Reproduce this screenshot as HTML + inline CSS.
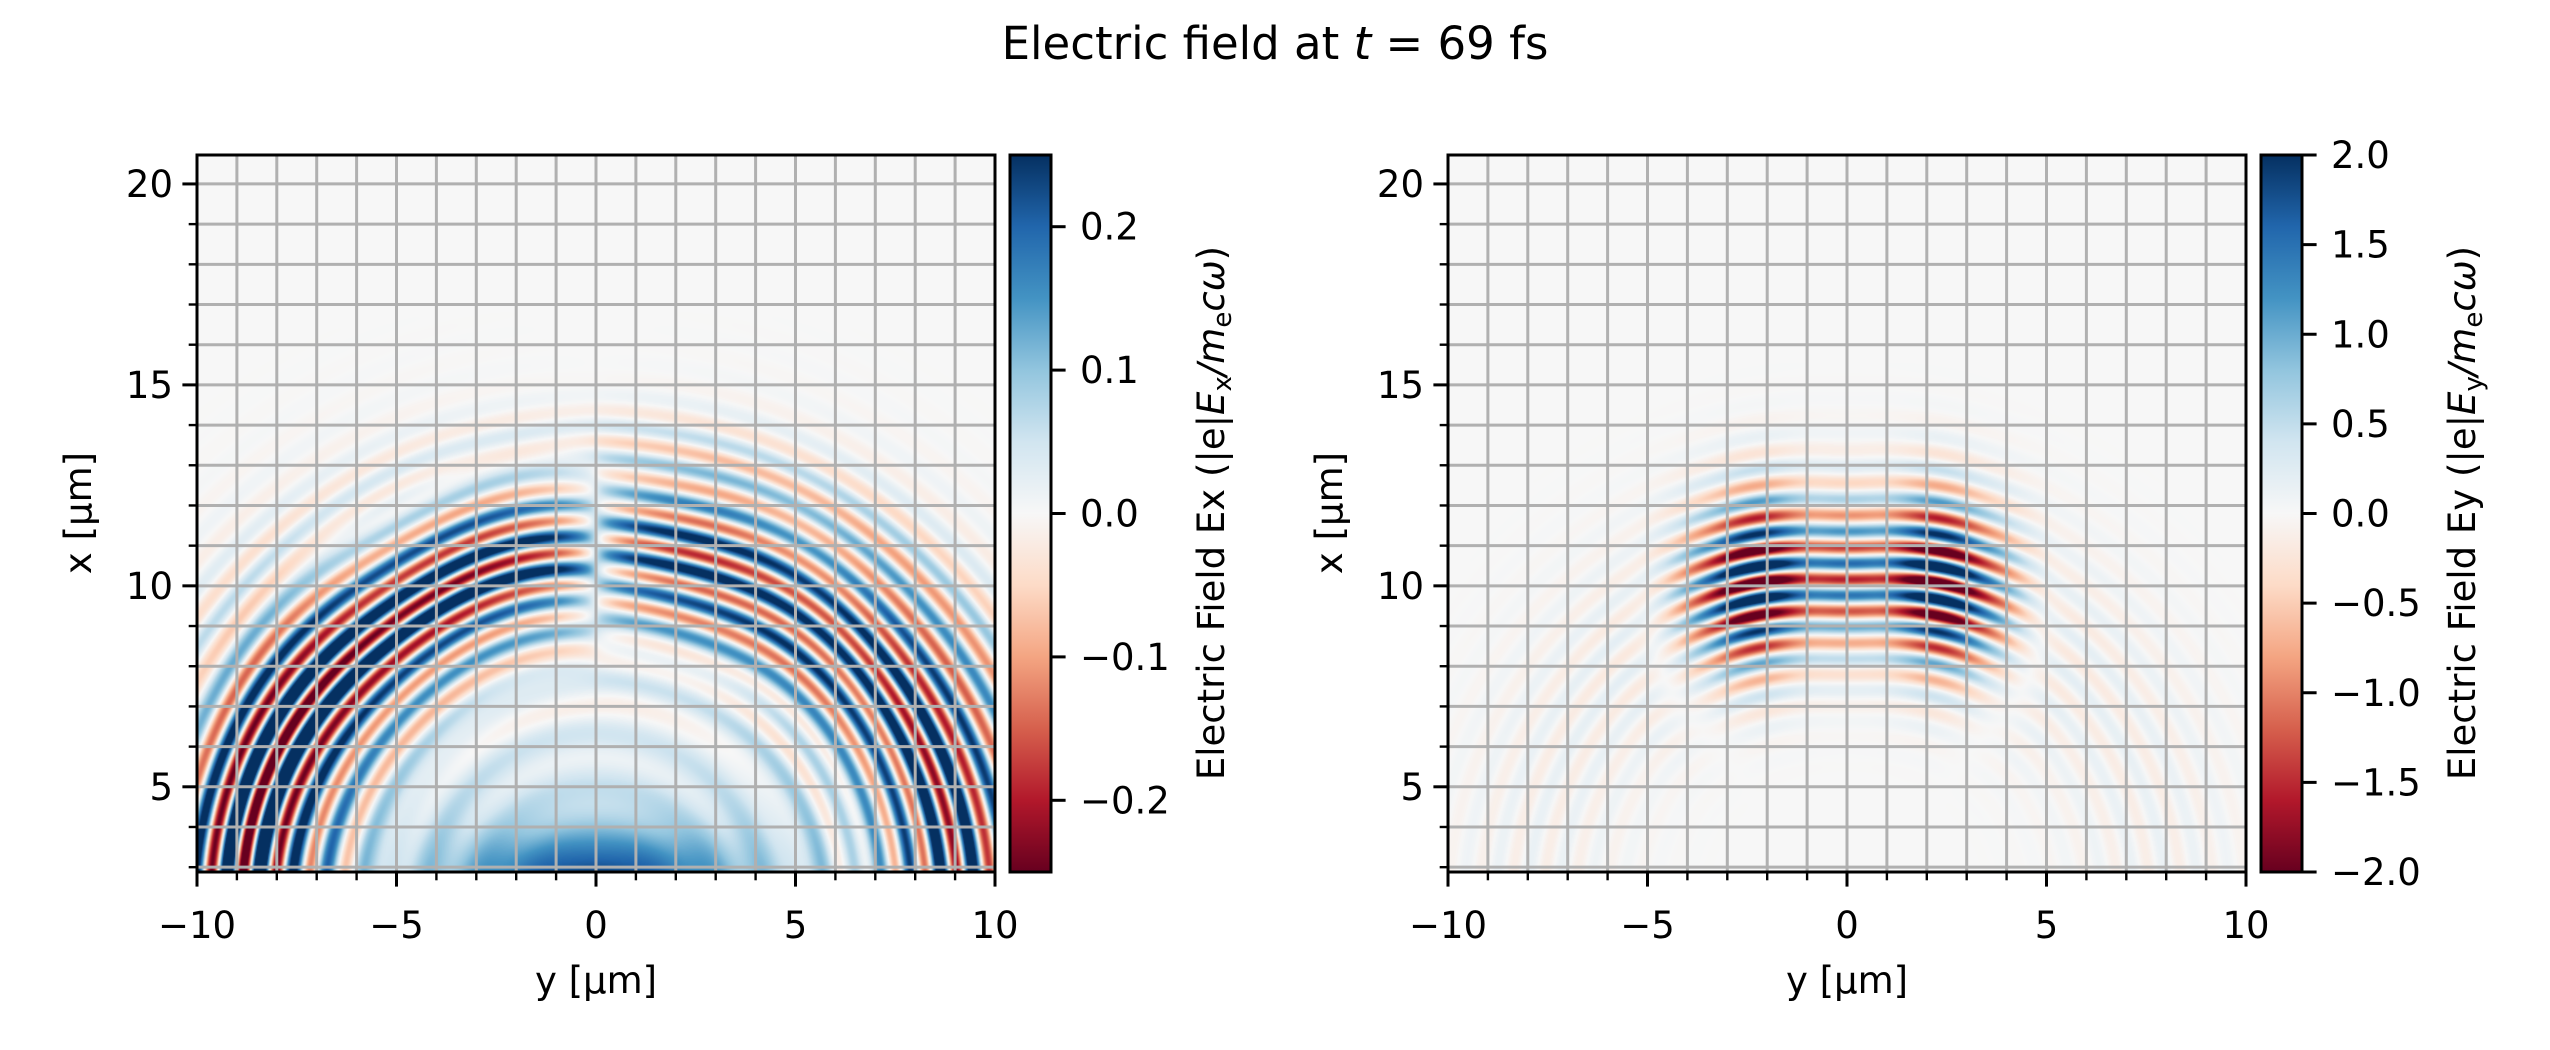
<!DOCTYPE html>
<html><head><meta charset="utf-8"><style>
html,body{margin:0;padding:0;background:#fff}
#wrap{position:relative;width:2550px;height:1050px;overflow:hidden;font-family:"DejaVu Sans","Liberation Sans",sans-serif}
canvas{position:absolute}
svg{position:absolute;left:0;top:0}
</style></head><body><div id="wrap">
<canvas id="c1" width="798" height="717" style="left:197px;top:155px"></canvas>
<canvas id="c2" width="798" height="717" style="left:1448px;top:155px"></canvas>
<svg id="s" width="2550" height="1050" xmlns="http://www.w3.org/2000/svg">
<defs>
<linearGradient id="g" x1="0" y1="1" x2="0" y2="0">
<stop offset="0" stop-color="rgb(103,0,31)"/><stop offset="0.1" stop-color="rgb(178,24,43)"/><stop offset="0.2" stop-color="rgb(214,96,77)"/><stop offset="0.3" stop-color="rgb(244,165,130)"/><stop offset="0.4" stop-color="rgb(253,219,199)"/><stop offset="0.5" stop-color="rgb(247,247,247)"/><stop offset="0.6" stop-color="rgb(209,229,240)"/><stop offset="0.7" stop-color="rgb(146,197,222)"/><stop offset="0.8" stop-color="rgb(67,147,195)"/><stop offset="0.9" stop-color="rgb(33,102,172)"/><stop offset="1" stop-color="rgb(5,48,97)"/>
</linearGradient></defs>
<text x="1275" y="59" font-size="45" text-anchor="middle">Electric field at <tspan font-style="italic">t</tspan> = 69 fs</text>
</svg>
</div>
<script>
const C=[[103,0,31],[178,24,43],[214,96,77],[244,165,130],[253,219,199],[247,247,247],[209,229,240],[146,197,222],[67,147,195],[33,102,172],[5,48,97]];
function cm(v){v=Math.max(-1,Math.min(1,v));let t=(v+1)/2*10;let i=Math.min(9,Math.floor(t));let f=t-i;let a=C[i],b=C[i+1];return [a[0]+(b[0]-a[0])*f,a[1]+(b[1]-a[1])*f,a[2]+(b[2]-a[2])*f];}
const W=798,H=717,X0=-10,X1=10,Y0=2.88,Y1=20.72;const k=2*Math.PI/0.8;
function Ex(y,x){const dx=x-2,r=Math.hypot(y,dx);const s=y/(Math.abs(y)+0.6);
 const env=Math.exp(-Math.pow((r-8.8)/1.9,2));const outer=0.35*Math.exp(-Math.pow((r-11.6)/0.9,2));
 const ph=k*r+0.6*Math.sin(y*0.9);
 let v=0.31*s*env*Math.cos(ph)+0.12*outer*Math.cos(k*r)+0.06*env;
 const sa=Math.abs(y)/(r+0.01);v+=0.10*sa*Math.exp(-Math.pow((r-9.5)/3,2))*Math.cos(k*r*0.93+1);
 v+=0.035*Math.sin(k*r*0.6)*Math.exp(-Math.pow((r-6)/3,2));
 v+=0.16*Math.exp(-(y*y/12+Math.pow(x-2.7,2)/1.2))+0.07*Math.exp(-(y*y/50+Math.pow(x-3,2)/10));
 return v/0.25;}
function Ey(y,x){const r=Math.hypot(y,x+3);const env=Math.exp(-Math.pow((r-13.3)/2.0,2));
 const ay=Math.abs(y);const g=Math.exp(-Math.pow((ay-2.3)/1.3,2))+0.6*Math.exp(-Math.pow(y/1.0,2))+0.15*Math.exp(-Math.pow((ay-4)/0.8,2));
 let v=2.6*env*g*Math.cos(k*r+0.5*Math.cos(y*1.35));
 const r2=Math.hypot(y,x-2);v+=0.3*Math.exp(-Math.pow((r2-8.5)/2.5,2))*Math.cos(k*r2)*Math.exp(-Math.pow(y/9,2));
 return v/2;}
function draw(id,f){const c=document.getElementById(id).getContext('2d');const im=c.createImageData(W,H);const d=im.data;
 for(let j=0;j<H;j++){const x=Y1-(j+0.5)/H*(Y1-Y0);for(let i=0;i<W;i++){const y=X0+(i+0.5)/W*20;const col=cm(f(y,x));const p=(j*W+i)*4;d[p]=col[0];d[p+1]=col[1];d[p+2]=col[2];d[p+3]=255;}}
 c.putImageData(im,0,0);}
draw('c1',Ex);draw('c2',Ey);
const S=document.getElementById('s');let h='';const FS=37;
function ax(L,cbL,cbTicks,cbLab,sub){const T=155,B=872,R=L+798;const px=y=>L+(y+10)/20*798;const py=x=>T+(Y1-x)/(Y1-Y0)*717;
 for(let y=-9;y<=9;y++)h+=`<line x1="${px(y)}" y1="${T}" x2="${px(y)}" y2="${B}" stroke="#b0b0b0" stroke-width="3"/>`;
 for(let x=3;x<=20;x++)h+=`<line x1="${L}" y1="${py(x)}" x2="${R}" y2="${py(x)}" stroke="#b0b0b0" stroke-width="3"/>`;
 h+=`<rect x="${L}" y="${T}" width="798" height="717" fill="none" stroke="#000" stroke-width="3"/>`;
 for(let y=-10;y<=10;y++){const M=y%5==0;h+=`<line x1="${px(y)}" y1="${B}" x2="${px(y)}" y2="${B+(M?14.6:8.3)}" stroke="#000" stroke-width="${M?3:2.4}"/>`;
  if(M)h+=`<text x="${px(y)}" y="${B+66}" font-size="${FS}" text-anchor="middle">${y<0?'\u2212'+(-y):y}</text>`;}
 for(let x=3;x<=20;x++){const M=x%5==0;h+=`<line x1="${L}" y1="${py(x)}" x2="${L-(M?14.6:8.3)}" y2="${py(x)}" stroke="#000" stroke-width="${M?3:2.4}"/>`;
  if(M)h+=`<text x="${L-24}" y="${py(x)+13}" font-size="${FS}" text-anchor="end">${x}</text>`;}
 h+=`<text x="${L+399}" y="993" font-size="${FS}" text-anchor="middle">y [µm]</text>`;
 h+=`<text transform="translate(${L-106},513) rotate(-90)" font-size="${FS}" text-anchor="middle">x [µm]</text>`;
 h+=`<rect x="${cbL}" y="${T}" width="41" height="717" fill="url(#g)" stroke="#000" stroke-width="3"/>`;
 for(const [v,lab,fr] of cbTicks){const yy=T+(1-fr)*717;h+=`<line x1="${cbL+41}" y1="${yy}" x2="${cbL+55.6}" y2="${yy}" stroke="#000" stroke-width="3"/><text x="${cbL+70}" y="${yy+13}" font-size="${FS}">${lab}</text>`;}
 h+=`<text transform="translate(${cbL+214},513) rotate(-90)" font-size="${FS}" text-anchor="middle">Electric Field ${cbLab} (|e|<tspan font-style="italic">E</tspan><tspan font-size="26" dy="7">${sub}</tspan><tspan dy="-7" font-style="italic">/m</tspan><tspan font-size="26" dy="7">e</tspan><tspan dy="-7" font-style="italic">cω</tspan>)</text>`;}
const t1=[[0.2,'0.2'],[0.1,'0.1'],[0,'0.0'],[-0.1,'\u22120.1'],[-0.2,'\u22120.2']].map(a=>[a[0],a[1],(a[0]+0.25)/0.5]);
const t2=[];for(let v=2;v>=-2;v-=0.5){t2.push([v,(v<0?'\u2212':'')+Math.abs(v).toFixed(1),(v+2)/4]);}
ax(197,1010,t1,'Ex','x');ax(1448,2261,t2,'Ey','y');
S.insertAdjacentHTML('beforeend',h);
</script></body></html>
